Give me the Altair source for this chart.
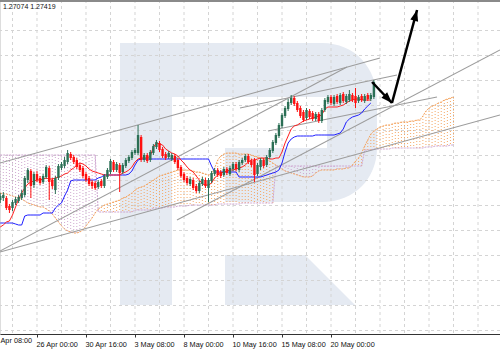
import altair as alt
import pandas as pd

# ---------------- data ----------------
FIRST_BAR = -12  # bar index of the left-most candle (bar 0 = 26 Apr 00:00, H4 bars)

open_ = [1.2600, 1.2602, 1.2602, 1.2594, 1.2592, 1.2597, 1.2599, 1.2602, 1.2605, 1.2620, 1.2629, 1.2615,
         1.2626, 1.2622, 1.2618, 1.2623, 1.2632, 1.2620, 1.2610, 1.2622, 1.2632, 1.2634, 1.2638, 1.2646, 1.2643, 1.2640, 1.2635, 1.2632, 1.2626, 1.2622, 1.2618, 1.2617,
         1.2613, 1.2619, 1.2614, 1.2623, 1.2628, 1.2638, 1.2630, 1.2635, 1.2628, 1.2634, 1.2639, 1.2642, 1.2647, 1.2647, 1.2663, 1.2640, 1.2645, 1.2640, 1.2647, 1.2653,
         1.2657, 1.2651, 1.2646, 1.2643, 1.2641, 1.2644, 1.2640, 1.2633, 1.2626, 1.2622, 1.2616, 1.2620, 1.2614, 1.2609, 1.2616, 1.2620, 1.2612, 1.2619, 1.2626, 1.2630,
         1.2628, 1.2625, 1.2631, 1.2626, 1.2631, 1.2636, 1.2630, 1.2637, 1.2640, 1.2644, 1.2639, 1.2640, 1.2626, 1.2633, 1.2640, 1.2635, 1.2643, 1.2649, 1.2657, 1.2664,
         1.2674, 1.2684, 1.2691, 1.2697, 1.2702, 1.2697, 1.2692, 1.2688, 1.2682, 1.2689, 1.2687, 1.2681, 1.2686, 1.2679, 1.2690, 1.2698, 1.2703, 1.2696, 1.2704, 1.2697,
         1.2706, 1.2698, 1.2700, 1.2705, 1.2704, 1.2699, 1.2704, 1.2699, 1.2705, 1.2701, 1.2703]
close = [1.2604, 1.2605, 1.2592, 1.2590, 1.2598, 1.2601, 1.2603, 1.2607, 1.2622, 1.2630, 1.2614, 1.2626,
         1.2620, 1.2617, 1.2624, 1.2633, 1.2618, 1.2614, 1.2622, 1.2634, 1.2636, 1.2640, 1.2647, 1.2642, 1.2638, 1.2633, 1.2630, 1.2624, 1.2620, 1.2616, 1.2614, 1.2612,
         1.2618, 1.2614, 1.2624, 1.2630, 1.2639, 1.2630, 1.2636, 1.2627, 1.2635, 1.2640, 1.2643, 1.2648, 1.2650, 1.2665, 1.2640, 1.2645, 1.2639, 1.2648, 1.2654, 1.2658,
         1.2650, 1.2644, 1.2642, 1.2647, 1.2645, 1.2638, 1.2632, 1.2624, 1.2620, 1.2617, 1.2621, 1.2612, 1.2609, 1.2617, 1.2621, 1.2614, 1.2620, 1.2627, 1.2630, 1.2625,
         1.2624, 1.2631, 1.2627, 1.2632, 1.2636, 1.2631, 1.2638, 1.2640, 1.2644, 1.2638, 1.2635, 1.2625, 1.2635, 1.2640, 1.2634, 1.2643, 1.2650, 1.2658, 1.2665, 1.2675,
         1.2685, 1.2692, 1.2698, 1.2702, 1.2696, 1.2690, 1.2684, 1.2680, 1.2690, 1.2683, 1.2681, 1.2686, 1.2679, 1.2690, 1.2700, 1.2703, 1.2697, 1.2703, 1.2698, 1.2705,
         1.2699, 1.2704, 1.2706, 1.2700, 1.2697, 1.2703, 1.2700, 1.2704, 1.2701, 1.2705, 1.2718]
high = [1.2607, 1.2608, 1.2604, 1.2596, 1.2600, 1.2603, 1.2605, 1.2610, 1.2624, 1.2632, 1.2631, 1.2628,
        1.2629, 1.2624, 1.2626, 1.2635, 1.2634, 1.2622, 1.2624, 1.2636, 1.2638, 1.2643, 1.2650, 1.2648, 1.2645, 1.2642, 1.2637, 1.2634, 1.2628, 1.2624, 1.2620, 1.2619,
        1.2620, 1.2621, 1.2626, 1.2632, 1.2641, 1.2640, 1.2638, 1.2637, 1.2637, 1.2642, 1.2645, 1.2650, 1.2652, 1.2675, 1.2665, 1.2647, 1.2647, 1.2650, 1.2656, 1.2660,
        1.2659, 1.2653, 1.2648, 1.2649, 1.2647, 1.2646, 1.2642, 1.2635, 1.2628, 1.2624, 1.2623, 1.2622, 1.2616, 1.2619, 1.2623, 1.2622, 1.2622, 1.2629, 1.2632, 1.2632,
        1.2630, 1.2633, 1.2633, 1.2634, 1.2638, 1.2638, 1.2640, 1.2642, 1.2646, 1.2646, 1.2641, 1.2642, 1.2637, 1.2642, 1.2642, 1.2645, 1.2652, 1.2660, 1.2667, 1.2677,
        1.2687, 1.2694, 1.2701, 1.2705, 1.2704, 1.2699, 1.2694, 1.2690, 1.2692, 1.2691, 1.2689, 1.2688, 1.2688, 1.2692, 1.2702, 1.2705, 1.2705, 1.2705, 1.2706, 1.2707,
        1.2708, 1.2706, 1.2710, 1.2707, 1.2712, 1.2705, 1.2706, 1.2706, 1.2707, 1.2707, 1.2720]
low = [1.2597, 1.2599, 1.2590, 1.2587, 1.2589, 1.2595, 1.2597, 1.2600, 1.2603, 1.2617, 1.2602, 1.2612,
       1.2618, 1.2615, 1.2616, 1.2621, 1.2600, 1.2611, 1.2606, 1.2620, 1.2630, 1.2632, 1.2636, 1.2640, 1.2636, 1.2631, 1.2628, 1.2622, 1.2618, 1.2614, 1.2611, 1.2610,
       1.2611, 1.2612, 1.2612, 1.2621, 1.2626, 1.2628, 1.2628, 1.2608, 1.2626, 1.2632, 1.2637, 1.2640, 1.2645, 1.2645, 1.2638, 1.2638, 1.2637, 1.2638, 1.2645, 1.2651,
       1.2648, 1.2642, 1.2640, 1.2641, 1.2639, 1.2636, 1.2630, 1.2622, 1.2618, 1.2615, 1.2614, 1.2610, 1.2607, 1.2607, 1.2614, 1.2612, 1.2598, 1.2617, 1.2624, 1.2623,
       1.2622, 1.2623, 1.2625, 1.2624, 1.2629, 1.2629, 1.2628, 1.2635, 1.2638, 1.2636, 1.2633, 1.2618, 1.2624, 1.2630, 1.2632, 1.2633, 1.2641, 1.2647, 1.2655, 1.2662,
       1.2672, 1.2682, 1.2689, 1.2695, 1.2694, 1.2688, 1.2682, 1.2678, 1.2680, 1.2681, 1.2679, 1.2679, 1.2677, 1.2677, 1.2688, 1.2696, 1.2695, 1.2694, 1.2696, 1.2695,
       1.2697, 1.2696, 1.2698, 1.2698, 1.2692, 1.2697, 1.2698, 1.2697, 1.2699, 1.2699, 1.2701]

tenkan = [1.2573, 1.2575, 1.2578, 1.2579, 1.2585, 1.2593, 1.2601, 1.2607, 1.2612, 1.2616, 1.2618, 1.2619,
          1.2620, 1.2620, 1.2621, 1.2622, 1.2621, 1.2621, 1.2622, 1.2623, 1.2624, 1.2626, 1.2627, 1.2630, 1.2632, 1.2635, 1.2637, 1.2636, 1.2634, 1.2631, 1.2629, 1.2628,
          1.2627, 1.2626, 1.2625, 1.2625, 1.2625, 1.2625, 1.2625, 1.2625, 1.2627, 1.2628, 1.2630, 1.2633, 1.2638, 1.2641, 1.2642, 1.2642, 1.2642, 1.2644, 1.2653, 1.2657,
          1.2656, 1.2655, 1.2651, 1.2649, 1.2647, 1.2646, 1.2644, 1.2640, 1.2637, 1.2633, 1.2630, 1.2628, 1.2624, 1.2620, 1.2616, 1.2615, 1.2615, 1.2617, 1.2622, 1.2625,
          1.2627, 1.2628, 1.2629, 1.2630, 1.2630, 1.2631, 1.2632, 1.2633, 1.2635, 1.2638, 1.2640, 1.2640, 1.2641, 1.2642, 1.2642, 1.2642, 1.2641, 1.2641, 1.2642, 1.2642,
          1.2648, 1.2657, 1.2664, 1.2671, 1.2674, 1.2675, 1.2677, 1.2679, 1.2680, 1.2681, 1.2682, 1.2683, 1.2684, 1.2685, 1.2691, 1.2693, 1.2693, 1.2693, 1.2693, 1.2694,
          1.2695, 1.2697, 1.2699, 1.2700, 1.2701, 1.2701, 1.2700, 1.2700, 1.2700, 1.2700]
kijun = [1.2577, 1.2577, 1.2577, 1.2577, 1.2577, 1.2576, 1.2575, 1.2575, 1.2584, 1.2585, 1.2585, 1.2585,
         1.2585, 1.2585, 1.2587, 1.2587, 1.2587, 1.2587, 1.2592, 1.2595, 1.2597, 1.2604, 1.2610, 1.2619, 1.2620, 1.2620, 1.2620, 1.2620, 1.2620, 1.2620, 1.2620, 1.2620,
         1.2622, 1.2623, 1.2625, 1.2625, 1.2625, 1.2625, 1.2625, 1.2625, 1.2625, 1.2625, 1.2626, 1.2629, 1.2635, 1.2640, 1.2641, 1.2641, 1.2641, 1.2641, 1.2641, 1.2641,
         1.2641, 1.2641, 1.2641, 1.2641, 1.2641, 1.2641, 1.2641, 1.2641, 1.2641, 1.2641, 1.2641, 1.2641, 1.2641, 1.2641, 1.2641, 1.2641, 1.2641, 1.2634, 1.2628, 1.2628,
         1.2628, 1.2628, 1.2628, 1.2628, 1.2628, 1.2628, 1.2623, 1.2623, 1.2623, 1.2623, 1.2623, 1.2623, 1.2623, 1.2623, 1.2624, 1.2625, 1.2626, 1.2627, 1.2628, 1.2630,
         1.2637, 1.2648, 1.2657, 1.2661, 1.2663, 1.2664, 1.2664, 1.2664, 1.2664, 1.2664, 1.2664, 1.2665, 1.2665, 1.2665, 1.2665, 1.2665, 1.2665, 1.2665, 1.2666, 1.2667,
         1.2671, 1.2678, 1.2681, 1.2683, 1.2684, 1.2685, 1.2687, 1.2691, 1.2694, 1.2697]

span_a = [1.2607, 1.2606, 1.2606, 1.2605, 1.2604, 1.2603, 1.2602, 1.2601, 1.2599, 1.2597, 1.2596, 1.2595,
          1.2594, 1.2593, 1.2593, 1.2591, 1.2589, 1.2586, 1.2582, 1.2578, 1.2574, 1.2571, 1.2569, 1.2568, 1.2567, 1.2567, 1.2568, 1.2570, 1.2574, 1.2578, 1.2582, 1.2587,
          1.2591, 1.2593, 1.2595, 1.2596, 1.2597, 1.2598, 1.2599, 1.2600, 1.2602, 1.2603, 1.2605, 1.2607, 1.2610, 1.2612, 1.2613, 1.2614, 1.2616, 1.2618, 1.2620, 1.2622,
          1.2624, 1.2625, 1.2626, 1.2627, 1.2628, 1.2629, 1.2630, 1.2630, 1.2630, 1.2630, 1.2630, 1.2629, 1.2628, 1.2628, 1.2627, 1.2626, 1.2625, 1.2626, 1.2632, 1.2640,
          1.2644, 1.2646, 1.2647, 1.2647, 1.2647, 1.2647, 1.2646, 1.2646, 1.2646, 1.2646, 1.2645, 1.2644, 1.2643, 1.2642, 1.2641, 1.2640, 1.2639, 1.2637, 1.2635, 1.2633,
          1.2631, 1.2629, 1.2628, 1.2627, 1.2626, 1.2625, 1.2624, 1.2623, 1.2623, 1.2623, 1.2624, 1.2627, 1.2629, 1.2630, 1.2630, 1.2630, 1.2630, 1.2630, 1.2631, 1.2631,
          1.2631, 1.2632, 1.2632, 1.2635, 1.2639, 1.2642, 1.2647, 1.2654, 1.2660, 1.2666, 1.2669, 1.2671, 1.2673, 1.2674, 1.2675, 1.2675, 1.2676, 1.2677, 1.2677, 1.2678,
          1.2678, 1.2678, 1.2679, 1.2679, 1.2680, 1.2680, 1.2684, 1.2689, 1.2692, 1.2694, 1.2695, 1.2697, 1.2698, 1.2700, 1.2701, 1.2702, 1.2703]
span_b = [1.2645, 1.2645, 1.2645, 1.2645, 1.2645, 1.2645, 1.2645, 1.2645, 1.2645, 1.2645, 1.2645, 1.2645,
          1.2645, 1.2645, 1.2645, 1.2645, 1.2645, 1.2645, 1.2645, 1.2645, 1.2645, 1.2645, 1.2645, 1.2645, 1.2645, 1.2645, 1.2645, 1.2645, 1.2645, 1.2645, 1.2645, 1.2645,
          1.2588, 1.2588, 1.2588, 1.2588, 1.2588, 1.2588, 1.2588, 1.2588, 1.2588, 1.2588, 1.2588, 1.2588, 1.2590, 1.2590, 1.2590, 1.2590, 1.2590, 1.2590, 1.2592, 1.2592,
          1.2592, 1.2592, 1.2593, 1.2593, 1.2593, 1.2593, 1.2594, 1.2594, 1.2594, 1.2594, 1.2595, 1.2595, 1.2595, 1.2595, 1.2595, 1.2595, 1.2595, 1.2595, 1.2595, 1.2596,
          1.2596, 1.2596, 1.2596, 1.2596, 1.2596, 1.2596, 1.2596, 1.2597, 1.2597, 1.2597, 1.2597, 1.2597, 1.2597, 1.2597, 1.2597, 1.2597, 1.2597, 1.2597, 1.2634, 1.2634,
          1.2634, 1.2634, 1.2634, 1.2634, 1.2634, 1.2634, 1.2634, 1.2634, 1.2634, 1.2634, 1.2634, 1.2634, 1.2634, 1.2634, 1.2634, 1.2634, 1.2634, 1.2634, 1.2634, 1.2634,
          1.2634, 1.2634, 1.2634, 1.2634, 1.2634, 1.2634, 1.2634, 1.2650, 1.2650, 1.2650, 1.2651, 1.2651, 1.2651, 1.2651, 1.2651, 1.2651, 1.2652, 1.2652, 1.2652, 1.2652,
          1.2652, 1.2652, 1.2652, 1.2652, 1.2652, 1.2652, 1.2652, 1.2653, 1.2653, 1.2653, 1.2654, 1.2654, 1.2654, 1.2654, 1.2654, 1.2655, 1.2655]

# hand-drawn trend lines: start bar, start price, end bar, end price
trend_bar0 = [-12.08, -12.08, -12.08, 45.71, 66.29, 75.43]
trend_p0 = [1.2637, 1.2549, 1.2548, 1.2580, 1.2692, 1.2669]
trend_bar1 = [112.0, 101.22, 151.18, 151.18, 117.55, 130.61]
trend_p1 = [1.2742, 1.2733, 1.2685, 1.2750, 1.2725, 1.2703]

# forecast arrows (bar, price)
arrow_bars = [109.4, 115.9, 124.1]
arrow_prices = [1.2718, 1.2697, 1.2790]

# time axis: labelled bars (every 16 H4 bars) and the text visible for each
tick_bars = [0, 16, 32, 48, 64, 80, 96]
tick_labels = ["26 Apr 00:00", "30 Apr 16:00", "3 May 08:00",
               "8 May 00:00", "10 May 16:00", "15 May 08:00", "20 May 00:00"]
edge_label = "Apr 08:00"   # tail of the label whose tick lies left of the window
grid_bars = [-8, 0, 8, 16, 24, 32, 40, 48, 56, 64, 72, 80, 88, 96, 104, 112, 120, 128, 136, 144]
grid_prices = [1.27695, 1.27445, 1.27195, 1.26945, 1.26695, 1.26445, 1.26195,
               1.25945, 1.25695, 1.25445, 1.25195, 1.24945, 1.24695]
header_text = "1.27074 1.27419"

# ---------------- frames ----------------
def idx(n):
    return list(range(FIRST_BAR, FIRST_BAR + n))

candles = pd.DataFrame({"bar": idx(len(open_)), "open": open_, "close": close, "high": high, "low": low})
ichi = pd.DataFrame({"bar": idx(len(tenkan)), "tenkan": tenkan, "kijun": kijun})
cloud = pd.DataFrame({"bar": idx(len(span_a)), "span_a": span_a, "span_b": span_b})
trend = pd.DataFrame({
    "line": [i for i in range(len(trend_bar0)) for _ in (0, 1)],
    "bar": [v for pair in zip(trend_bar0, trend_bar1) for v in pair],
    "price": [v for pair in zip(trend_p0, trend_p1) for v in pair],
})
arrow1 = pd.DataFrame({"bar": arrow_bars[0:2], "price": arrow_prices[0:2]})
arrow2 = pd.DataFrame({"bar": arrow_bars[1:3], "price": arrow_prices[1:3]})

# ---------------- styling ----------------
GREEN = "#2b6f55"
RED = "#ff1010"
ORANGE = "#f4a460"
THISTLE = "#cda4cf"
GREY = "#9c9c9c"
GRID = "#d4d4d4"
LOGO = "#e5eaf2"
X_MIN, X_MAX = -12.08, 151.18

XS = alt.Scale(domain=[X_MIN, X_MAX], nice=False, zero=False)
YS = alt.Scale(domain=[1.2466, 1.2800], nice=False, zero=False)

label_expr = " : ".join(f"datum.value == {b} ? '{l}'" for b, l in zip(tick_bars, tick_labels)) + " : ''"
XAX = alt.Axis(values=tick_bars, labelExpr=label_expr, grid=False, title=None,
               domainColor="#333333", domainWidth=1.2, tickColor="#333333", tickSize=3,
               labelFont="Liberation Sans", labelFontSize=7.3, labelColor="#111111",
               labelAlign="left", labelBaseline="top", labelPadding=3, labelOffset=-1,
               labelOverlap=False, labelFlush=False, labelBound=False)


def X(f):
    return alt.X(f, type="quantitative", scale=XS, axis=XAX)


def Y(f):
    return alt.Y(f, type="quantitative", scale=YS, axis=None)


one = pd.DataFrame({"k": [0]})

R_PATH = ("M 120 43 L 322 43 C 355 43 377 68 377 100 L 377 148 C 377 178 355 202 322 202 "
          "L 225 202 L 225 148 L 327 148 L 327 97 L 172 97 L 172 305 L 120 305 Z "
          "M 225 255 L 305 255 L 355 305 L 225 305 Z")
HEAD = "M 0 0 L 4 11 L -4 11 Z"

logo = alt.Chart(one).mark_point(shape=R_PATH, size=4, filled=True, color=LOGO, opacity=1,
                                 strokeOpacity=0).encode(x=alt.value(0), y=alt.value(0))

vgrid = alt.Chart(pd.DataFrame({"bar": grid_bars})).mark_rule(
    color=GRID, strokeDash=[3, 3], strokeWidth=1).encode(x=X("bar"))
hgrid = alt.Chart(pd.DataFrame({"price": grid_prices})).mark_rule(
    color=GRID, strokeDash=[3, 3], strokeWidth=1).encode(y=Y("price"))

cloud_fill = alt.Chart(cloud).mark_rule(strokeDash=[1, 2], strokeWidth=1, opacity=0.95).encode(
    x=X("bar"), y=Y("span_a"), y2="span_b",
    color=alt.condition("datum.span_a >= datum.span_b", alt.value(ORANGE), alt.value(THISTLE)))
edge_a = alt.Chart(cloud).mark_line(color=ORANGE, strokeDash=[2, 1], strokeWidth=1).encode(
    x=X("bar"), y=Y("span_a"))
edge_b = alt.Chart(cloud).mark_line(color=THISTLE, strokeDash=[2, 1], strokeWidth=1).encode(
    x=X("bar"), y=Y("span_b"))

trend_lines = alt.Chart(trend).mark_line(color=GREY, strokeWidth=1.1).encode(
    x=X("bar"), y=Y("price"), detail="line:N")

kij = alt.Chart(ichi).mark_line(color="#1f1fff", strokeWidth=1).encode(x=X("bar"), y=Y("kijun"))
ten = alt.Chart(ichi).mark_line(color="#ff2020", strokeWidth=1).encode(x=X("bar"), y=Y("tenkan"))

cond = alt.condition("datum.close >= datum.open", alt.value(GREEN), alt.value(RED))
wicks = alt.Chart(candles).mark_rule(strokeWidth=1).encode(x=X("bar"), y=Y("low"), y2="high", color=cond)
bodies = alt.Chart(candles).mark_rule(strokeWidth=2.4).encode(x=X("bar"), y=Y("open"), y2="close", color=cond)

arr1 = alt.Chart(arrow1).mark_line(color="black", strokeWidth=2.5).encode(x=X("bar"), y=Y("price"))
arr2 = alt.Chart(arrow2).mark_line(color="black", strokeWidth=2.5).encode(x=X("bar"), y=Y("price"))
head1 = alt.Chart(arrow1.iloc[[1]]).mark_point(shape=HEAD, size=4, filled=True, color="black", opacity=1,
                                               strokeOpacity=0, angle=136).encode(x=X("bar"), y=Y("price"))
head2 = alt.Chart(arrow2.iloc[[1]]).mark_point(shape=HEAD, size=4, filled=True, color="black", opacity=1,
                                               strokeOpacity=0, angle=15).encode(x=X("bar"), y=Y("price"))

# left-edge time label (its tick is outside the window, only its tail is visible)
edge_text = alt.Chart(one).mark_text(
    text=edge_label, align="left", baseline="top", font="Liberation Sans", fontSize=7.3, color="#111111"
).encode(x=alt.value(0.5), y=alt.value(337))

header = alt.Chart(one).mark_text(text=header_text, align="left", baseline="middle", font="Liberation Sans",
                                  fontSize=7, color="#111111").encode(x=alt.value(3), y=alt.value(6.5))
top_border = alt.Chart(one).mark_rule(color="#8a8a8a", strokeWidth=2).encode(
    x=alt.value(0), x2=alt.value(500), y=alt.value(1))

chart = alt.layer(
    logo, vgrid, hgrid, cloud_fill, edge_a, edge_b, trend_lines, kij, ten, wicks, bodies,
    arr1, arr2, head1, head2, edge_text, header, top_border
).properties(
    width=500, height=334,
    autosize=alt.AutoSizeParams(type="none"),
    padding={"left": 0, "top": 0, "right": 0, "bottom": 16},
).configure_view(stroke=None).configure(background="white")

chart.save("out.html", embed_options={"renderer": "svg", "actions": False})
